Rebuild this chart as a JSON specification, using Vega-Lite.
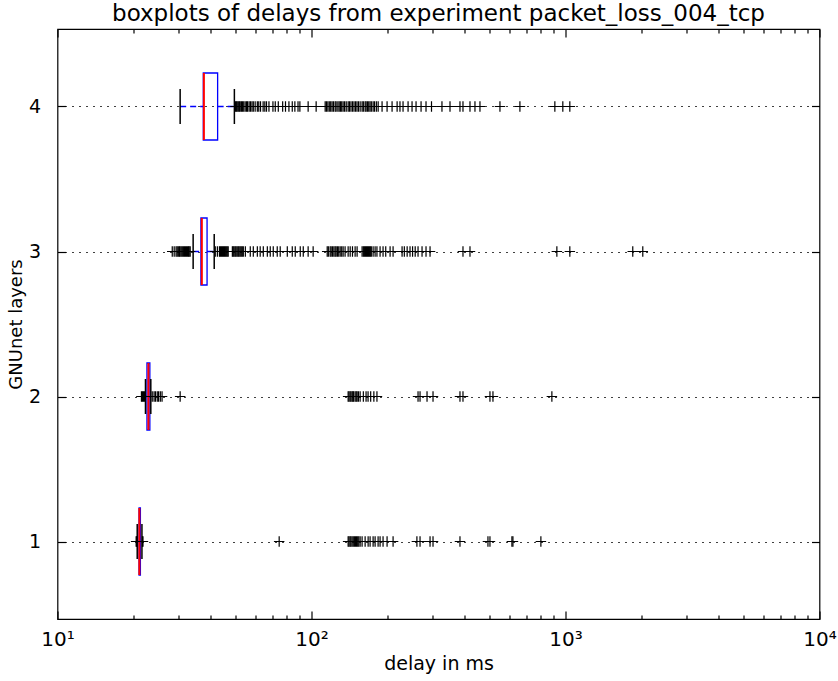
{
  "$schema": "https://vega.github.io/schema/vega-lite/v6.json",
  "width": 762,
  "height": 590,
  "autosize": "none",
  "padding": {"left": 57.5, "top": 29, "right": 18.5, "bottom": 62},
  "title": {"text": "boxplots of delays from experiment packet_loss_004_tcp", "fontSize": 23, "font": "DejaVu Sans", "fontWeight": "normal", "color": "black", "offset": 2},
  "datasets": {
    "stats": [
      {"layer": 1, "lo": 20.6, "q1": 20.95, "med": 21.0, "q3": 21.2, "hi": 21.5},
      {"layer": 2, "lo": 22.2, "q1": 22.5, "med": 22.8, "q3": 23.1, "hi": 23.3},
      {"layer": 3, "lo": 34.2, "q1": 36.7, "med": 37.0, "q3": 38.8, "hi": 41.4},
      {"layer": 4, "lo": 30.4, "q1": 37.5, "med": 37.7, "q3": 42.7, "hi": 49.7}
    ],
    "fliers": [
      {"layer":1,"delay":20.4},{"layer":1,"delay":20.5},{"layer":1,"delay":21.6},{"layer":1,"delay":21.7},{"layer":1,"delay":74.6},{"layer":1,"delay":139.4},{"layer":1,"delay":140.5},{"layer":1,"delay":141.9},{"layer":1,"delay":143},{"layer":1,"delay":144.5},{"layer":1,"delay":146},{"layer":1,"delay":147.5},{"layer":1,"delay":149},{"layer":1,"delay":150.5},{"layer":1,"delay":152},{"layer":1,"delay":153.5},{"layer":1,"delay":155.4},{"layer":1,"delay":158.2},{"layer":1,"delay":162.6},{"layer":1,"delay":167.1},{"layer":1,"delay":170.1},{"layer":1,"delay":174.8},{"layer":1,"delay":178},{"layer":1,"delay":182.9},{"layer":1,"delay":186.2},{"layer":1,"delay":191.3},{"layer":1,"delay":198.4},{"layer":1,"delay":209.5},{"layer":1,"delay":260},{"layer":1,"delay":267.5},{"layer":1,"delay":292.9},{"layer":1,"delay":300.9},{"layer":1,"delay":384.2},{"layer":1,"delay":495.1},{"layer":1,"delay":504.2},{"layer":1,"delay":615.2},{"layer":1,"delay":620.9},{"layer":1,"delay":800},
      {"layer":2,"delay":21.4},{"layer":2,"delay":21.6},{"layer":2,"delay":21.8},{"layer":2,"delay":22.0},{"layer":2,"delay":23.6},{"layer":2,"delay":24.0},{"layer":2,"delay":24.3},{"layer":2,"delay":24.7},{"layer":2,"delay":25.0},{"layer":2,"delay":25.4},{"layer":2,"delay":25.8},{"layer":2,"delay":30.4},{"layer":2,"delay":139.4},{"layer":2,"delay":140.5},{"layer":2,"delay":141.9},{"layer":2,"delay":143},{"layer":2,"delay":144.5},{"layer":2,"delay":145.5},{"layer":2,"delay":146.5},{"layer":2,"delay":148.5},{"layer":2,"delay":150},{"layer":2,"delay":151.2},{"layer":2,"delay":153},{"layer":2,"delay":155.4},{"layer":2,"delay":160},{"layer":2,"delay":164},{"layer":2,"delay":167},{"layer":2,"delay":171},{"layer":2,"delay":176},{"layer":2,"delay":181},{"layer":2,"delay":262.7},{"layer":2,"delay":267.5},{"layer":2,"delay":285},{"layer":2,"delay":300.9},{"layer":2,"delay":384.2},{"layer":2,"delay":394.8},{"layer":2,"delay":504.2},{"layer":2,"delay":518.1},{"layer":2,"delay":883.8},
      {"layer":3,"delay":28.3},{"layer":3,"delay":28.8},{"layer":3,"delay":29.3},{"layer":3,"delay":29.6},{"layer":3,"delay":29.9},{"layer":3,"delay":30.2},{"layer":3,"delay":30.4},{"layer":3,"delay":30.7},{"layer":3,"delay":31.0},{"layer":3,"delay":31.3},{"layer":3,"delay":31.6},{"layer":3,"delay":31.9},{"layer":3,"delay":32.2},{"layer":3,"delay":32.5},{"layer":3,"delay":32.8},{"layer":3,"delay":33.0},{"layer":3,"delay":33.3},
      {"layer":3,"delay":41.8},{"layer":3,"delay":42.6},{"layer":3,"delay":43.4},{"layer":3,"delay":43.8},{"layer":3,"delay":44.2},{"layer":3,"delay":44.6},{"layer":3,"delay":45.0},{"layer":3,"delay":45.4},{"layer":3,"delay":45.8},{"layer":3,"delay":46.2},{"layer":3,"delay":46.6},{"layer":3,"delay":47.0},{"layer":3,"delay":48.8},{"layer":3,"delay":49.2},{"layer":3,"delay":49.6},{"layer":3,"delay":50.1},{"layer":3,"delay":50.5},{"layer":3,"delay":51.0},{"layer":3,"delay":51.5},{"layer":3,"delay":51.9},{"layer":3,"delay":52.4},{"layer":3,"delay":52.9},{"layer":3,"delay":53.4},{"layer":3,"delay":53.9},{"layer":3,"delay":54.9},{"layer":3,"delay":57.4},{"layer":3,"delay":59.0},{"layer":3,"delay":61.2},{"layer":3,"delay":62.8},{"layer":3,"delay":64.6},{"layer":3,"delay":67.0},{"layer":3,"delay":68.8},{"layer":3,"delay":70.7},{"layer":3,"delay":73.3},{"layer":3,"delay":75.3},{"layer":3,"delay":80.3},{"layer":3,"delay":84.0},{"layer":3,"delay":86.3},{"layer":3,"delay":90.3},{"layer":3,"delay":92.8},{"layer":3,"delay":97.0},{"layer":3,"delay":101.5},{"layer":3,"delay":115.3},{"layer":3,"delay":116.5},{"layer":3,"delay":118.4},{"layer":3,"delay":119.5},{"layer":3,"delay":121},{"layer":3,"delay":122.5},{"layer":3,"delay":123.9},{"layer":3,"delay":125},{"layer":3,"delay":126.5},{"layer":3,"delay":128},{"layer":3,"delay":129.7},{"layer":3,"delay":131.5},{"layer":3,"delay":133.2},{"layer":3,"delay":135.6},{"layer":3,"delay":139.4},{"layer":3,"delay":142},{"layer":3,"delay":145},{"layer":3,"delay":148.5},{"layer":3,"delay":151.2},{"layer":3,"delay":158.2},{"layer":3,"delay":160},{"layer":3,"delay":161.5},{"layer":3,"delay":163},{"layer":3,"delay":164.5},{"layer":3,"delay":166},{"layer":3,"delay":167.5},{"layer":3,"delay":169},{"layer":3,"delay":170.5},{"layer":3,"delay":172},{"layer":3,"delay":174.8},{"layer":3,"delay":178},{"layer":3,"delay":181},{"layer":3,"delay":186.2},{"layer":3,"delay":191.3},{"layer":3,"delay":196},{"layer":3,"delay":203.9},{"layer":3,"delay":209.5},{"layer":3,"delay":227.3},{"layer":3,"delay":232},{"layer":3,"delay":238},{"layer":3,"delay":244.3},{"layer":3,"delay":250},{"layer":3,"delay":256},{"layer":3,"delay":262.7},{"layer":3,"delay":272.4},{"layer":3,"delay":282.4},{"layer":3,"delay":292.9},{"layer":3,"delay":394.8},{"layer":3,"delay":420.7},{"layer":3,"delay":924.7},{"layer":3,"delay":1040},{"layer":3,"delay":1840},{"layer":3,"delay":2015},
      {"layer":4,"delay":50.2},{"layer":4,"delay":50.6},{"layer":4,"delay":51.0},{"layer":4,"delay":51.5},{"layer":4,"delay":52.0},{"layer":4,"delay":52.4},{"layer":4,"delay":53.0},{"layer":4,"delay":53.5},{"layer":4,"delay":54.1},{"layer":4,"delay":54.8},{"layer":4,"delay":55.5},{"layer":4,"delay":56.0},{"layer":4,"delay":56.8},{"layer":4,"delay":57.5},{"layer":4,"delay":58.3},{"layer":4,"delay":59.0},{"layer":4,"delay":60.0},{"layer":4,"delay":61.2},{"layer":4,"delay":62.0},{"layer":4,"delay":63.0},{"layer":4,"delay":64.5},{"layer":4,"delay":65.5},{"layer":4,"delay":66.5},{"layer":4,"delay":68.0},{"layer":4,"delay":70.5},{"layer":4,"delay":72.0},{"layer":4,"delay":74.0},{"layer":4,"delay":77.0},{"layer":4,"delay":79.0},{"layer":4,"delay":81.5},{"layer":4,"delay":84.0},{"layer":4,"delay":86.0},{"layer":4,"delay":88.5},{"layer":4,"delay":90.0},{"layer":4,"delay":97.0},{"layer":4,"delay":104.3},{"layer":4,"delay":113.2},{"layer":4,"delay":114.5},{"layer":4,"delay":116},{"layer":4,"delay":117.5},{"layer":4,"delay":119},{"layer":4,"delay":120.5},{"layer":4,"delay":122},{"layer":4,"delay":123.9},{"layer":4,"delay":125},{"layer":4,"delay":127},{"layer":4,"delay":128.5},{"layer":4,"delay":130},{"layer":4,"delay":131.5},{"layer":4,"delay":133.2},{"layer":4,"delay":135},{"layer":4,"delay":137},{"layer":4,"delay":139.4},{"layer":4,"delay":141},{"layer":4,"delay":143},{"layer":4,"delay":145},{"layer":4,"delay":147},{"layer":4,"delay":149},{"layer":4,"delay":151},{"layer":4,"delay":153},{"layer":4,"delay":155.4},{"layer":4,"delay":158.2},{"layer":4,"delay":160},{"layer":4,"delay":162.6},{"layer":4,"delay":164},{"layer":4,"delay":166},{"layer":4,"delay":168},{"layer":4,"delay":170},{"layer":4,"delay":172},{"layer":4,"delay":174.8},{"layer":4,"delay":177},{"layer":4,"delay":180},{"layer":4,"delay":183},{"layer":4,"delay":189.6},{"layer":4,"delay":198.4},{"layer":4,"delay":207.6},{"layer":4,"delay":217.3},{"layer":4,"delay":223},{"layer":4,"delay":229.3},{"layer":4,"delay":240},{"layer":4,"delay":248.8},{"layer":4,"delay":258},{"layer":4,"delay":270},{"layer":4,"delay":282.4},{"layer":4,"delay":296.8},{"layer":4,"delay":326.3},{"layer":4,"delay":351},{"layer":4,"delay":384.2},{"layer":4,"delay":394.8},{"layer":4,"delay":420.7},{"layer":4,"delay":440.1},{"layer":4,"delay":460.5},{"layer":4,"delay":552},{"layer":4,"delay":661.5},{"layer":4,"delay":908},{"layer":4,"delay":976},{"layer":4,"delay":1040}
    ]
  },
  "layer": [
    {
      "data": {"name": "stats"},
      "mark": {"type": "rule", "color": "#0000ff", "strokeDash": [6, 4], "strokeWidth": 1.5},
      "encoding": {
        "x": {"field": "lo", "type": "quantitative", "scale": {"type": "log", "domain": [10, 10000], "nice": false}, "axis": null},
        "x2": {"field": "q1"},
        "y": {"field": "layer", "type": "quantitative", "scale": {"domain": [0.5, 4.5], "nice": false, "zero": false},
              "axis": {"orient": "left", "values": [1, 2, 3, 4], "labels": false, "ticks": false, "domain": false, "title": null, "grid": true, "gridColor": "black", "gridDash": [2, 5], "gridWidth": 1, "gridOpacity": 0.75}}
      }
    },
    {
      "data": {"name": "stats"},
      "mark": {"type": "rule", "color": "#0000ff", "strokeDash": [6, 4], "strokeWidth": 1.5},
      "encoding": {
        "x": {"field": "q3", "type": "quantitative", "scale": {"type": "log", "domain": [10, 10000], "nice": false}, "axis": null},
        "x2": {"field": "hi"},
        "y": {"field": "layer", "type": "quantitative", "scale": {"domain": [0.5, 4.5], "nice": false, "zero": false}, "axis": null}
      }
    },
    {
      "data": {"name": "stats"},
      "mark": {"type": "bar", "size": 67, "fill": "#ffffff", "fillOpacity": 0, "stroke": "#0000ff", "strokeWidth": 1.3, "orient": "horizontal"},
      "encoding": {
        "x": {"field": "q1", "type": "quantitative", "scale": {"type": "log", "domain": [10, 10000], "nice": false},
              "axis": {"orient": "top", "values": [10, 100, 1000, 10000], "labels": false, "title": null, "domain": false, "offset": -8, "tickSize": 8, "ticks": true, "tickColor": "black", "tickWidth": 1.2, "grid": false}},
        "x2": {"field": "q3"},
        "y": {"field": "layer", "type": "quantitative", "scale": {"domain": [0.5, 4.5], "nice": false, "zero": false},
              "axis": {"orient": "right", "values": [1, 2, 3, 4], "labels": false, "title": null, "domain": false, "offset": -8, "tickSize": 8, "ticks": true, "tickColor": "black", "tickWidth": 1.2, "grid": false}}
      }
    },
    {
      "data": {"name": "stats"},
      "mark": {"type": "tick", "orient": "vertical", "size": 67, "thickness": 2, "color": "#ff0000", "opacity": 1},
      "encoding": {
        "x": {"field": "med", "type": "quantitative", "scale": {"type": "log", "domain": [10, 10000], "nice": false},
              "axis": {"orient": "bottom", "values": [20,30,40,50,60,70,80,90,200,300,400,500,600,700,800,900,2000,3000,4000,5000,6000,7000,8000,9000], "labels": false, "title": null, "domain": false, "offset": -4, "tickSize": 4, "ticks": true, "tickColor": "black", "tickWidth": 1.2, "grid": false}},
        "y": {"field": "layer", "type": "quantitative", "scale": {"domain": [0.5, 4.5], "nice": false, "zero": false}, "axis": null}
      }
    },
    {
      "data": {"name": "stats"},
      "mark": {"type": "tick", "orient": "vertical", "size": 35, "thickness": 1.5, "color": "black", "opacity": 1},
      "encoding": {
        "x": {"field": "lo", "type": "quantitative", "scale": {"type": "log", "domain": [10, 10000], "nice": false},
              "axis": {"orient": "top", "values": [20,30,40,50,60,70,80,90,200,300,400,500,600,700,800,900,2000,3000,4000,5000,6000,7000,8000,9000], "labels": false, "title": null, "domain": false, "offset": -4, "tickSize": 4, "ticks": true, "tickColor": "black", "tickWidth": 1.2, "grid": false}},
        "y": {"field": "layer", "type": "quantitative", "scale": {"domain": [0.5, 4.5], "nice": false, "zero": false}, "axis": null}
      }
    },
    {
      "data": {"name": "stats"},
      "mark": {"type": "tick", "orient": "vertical", "size": 35, "thickness": 1.5, "color": "black", "opacity": 1},
      "encoding": {
        "x": {"field": "hi", "type": "quantitative", "scale": {"type": "log", "domain": [10, 10000], "nice": false}, "axis": null},
        "y": {"field": "layer", "type": "quantitative", "scale": {"domain": [0.5, 4.5], "nice": false, "zero": false}, "axis": null}
      }
    },
    {
      "data": {"name": "fliers"},
      "mark": {"type": "point", "shape": "M-1,0L1,0M0,-1L0,1", "size": 110, "filled": false, "stroke": "black", "strokeWidth": 1.2, "opacity": 1},
      "encoding": {
        "x": {"field": "delay", "type": "quantitative", "scale": {"type": "log", "domain": [10, 10000], "nice": false},
              "axis": {"orient": "bottom", "values": [10, 100, 1000, 10000], "labelExpr": "'10' + (datum.value == 10 ? '¹' : datum.value == 100 ? '²' : datum.value == 1000 ? '³' : '⁴')", "title": "delay in ms", "domain": false, "offset": -8, "tickSize": 8, "ticks": true, "tickColor": "black", "tickWidth": 1.2, "labelPadding": 10, "labelFontSize": 20, "titleFontSize": 19, "titlePadding": 5, "grid": false, "labelFlush": false}},
        "y": {"field": "layer", "type": "quantitative", "scale": {"domain": [0.5, 4.5], "nice": false, "zero": false},
              "axis": {"orient": "left", "values": [1, 2, 3, 4], "format": "d", "title": "GNUnet layers", "domain": false, "offset": -8, "tickSize": 8, "ticks": true, "tickColor": "black", "tickWidth": 1.2, "labelPadding": 17, "labelFontSize": 19, "titleFontSize": 18, "titlePadding": 3, "grid": false}}
      }
    }
  ],
  "resolve": {"axis": {"x": "independent", "y": "independent"}},
  "config": {
    "font": "DejaVu Sans",
    "view": {"stroke": "black", "strokeWidth": 1.2},
    "axis": {"labelFont": "DejaVu Sans", "titleFont": "DejaVu Sans", "labelColor": "black", "titleColor": "black", "titleFontWeight": "normal"}
  }
}
